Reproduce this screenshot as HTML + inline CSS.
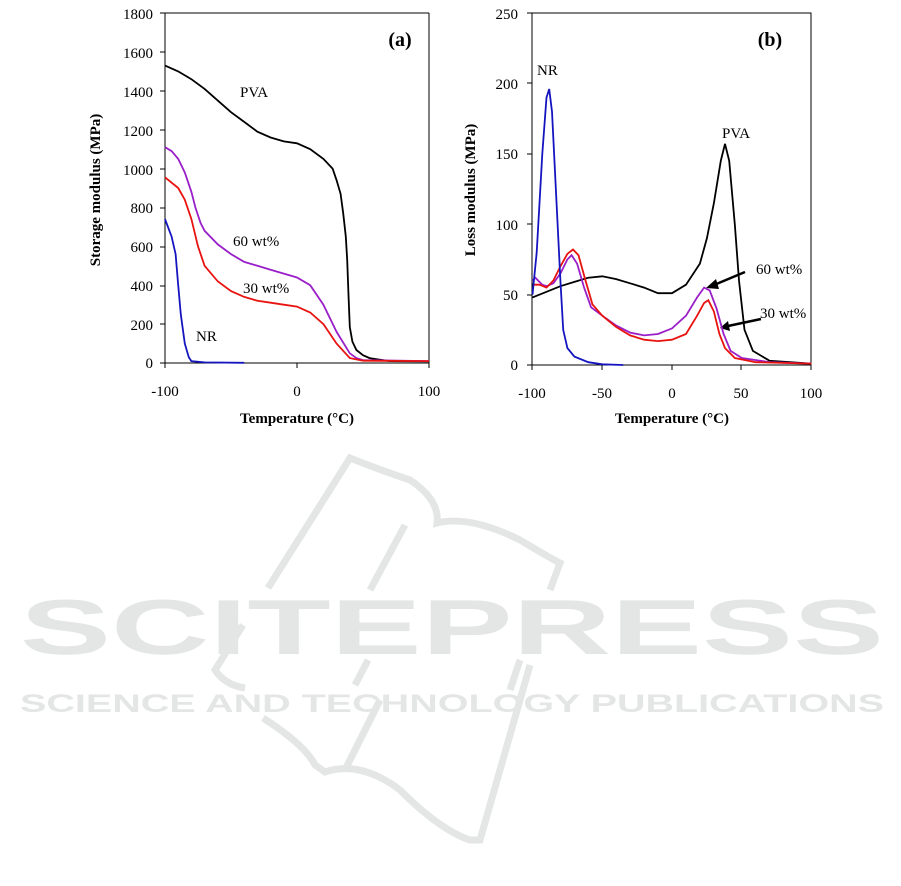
<!DOCTYPE html>
<html><head><meta charset="utf-8"><style>
html,body{margin:0;padding:0;background:#fff;}
svg{display:block;font-family:"Liberation Serif",serif;}
</style></head><body>
<svg id="s" width="901" height="886" viewBox="0 0 901 886" xmlns="http://www.w3.org/2000/svg">
<!-- watermark -->
<g fill="none" stroke="#e4e6e6" stroke-width="7">
<path d="M268,588 L350,458 Q380,470 410,480 Q440,500 437,523 Q470,515 520,540 Q550,558 560,563 L550,590"/>
<path d="M405,525 L370,590"/>
<path d="M243,625 L215,670 Q225,685 245,688"/>
<path d="M263,718 Q305,745 315,765 L325,772 Q360,760 400,790 Q440,830 470,840 L480,840 L530,665"/>
<path d="M345,770 L380,700"/>
<path d="M368,660 L355,685"/>
<path d="M520,660 L510,690"/>
</g>
<text x="452" y="654" text-anchor="middle" font-family="Liberation Sans,sans-serif" font-weight="bold" font-size="78" fill="#e4e6e6" textLength="864" lengthAdjust="spacingAndGlyphs">SCITEPRESS</text>
<text x="452" y="712" text-anchor="middle" font-family="Liberation Sans,sans-serif" font-weight="bold" font-size="25" fill="#e4e6e6" textLength="864" lengthAdjust="spacingAndGlyphs">SCIENCE AND TECHNOLOGY PUBLICATIONS</text>

<!-- chart a axes -->
<g stroke="#000" stroke-width="1" fill="none">
<path d="M165,13 V363 H429"/>
<path d="M429,13 V363"/>
<path d="M165,13 H429"/>
</g>
<g id="ta" stroke="#000" stroke-width="1"></g>
<g font-size="15" text-anchor="end" fill="#000">
<text x="153" y="19">1800</text><text x="153" y="58">1600</text><text x="153" y="97">1400</text>
<text x="153" y="136">1200</text><text x="153" y="175">1000</text><text x="153" y="213">800</text>
<text x="153" y="252">600</text><text x="153" y="291">400</text><text x="153" y="330">200</text>
<text x="153" y="368">0</text>
</g>
<g font-size="15" text-anchor="middle">
<text x="165" y="396">-100</text><text x="297" y="396">0</text><text x="429" y="396">100</text>
</g>
<text x="297" y="423" text-anchor="middle" font-size="15" font-weight="bold">Temperature (°C)</text>
<text transform="translate(100,190) rotate(-90)" text-anchor="middle" font-size="15" font-weight="bold">Storage modulus (MPa)</text>
<text x="400" y="46" text-anchor="middle" font-size="20" font-weight="bold">(a)</text>
<g font-size="15">
<text x="240" y="97">PVA</text><text x="233" y="246">60 wt%</text>
<text x="243" y="293">30 wt%</text><text x="196" y="341">NR</text>
</g>

<!-- chart b axes -->
<g stroke="#000" stroke-width="1" fill="none">
<path d="M532,13 V365 H811 V13 H532"/>
</g>
<g font-size="15" text-anchor="end">
<text x="518" y="19">250</text><text x="518" y="89">200</text><text x="518" y="159">150</text>
<text x="518" y="230">100</text><text x="518" y="300">50</text><text x="518" y="370">0</text>
</g>
<g font-size="15" text-anchor="middle">
<text x="532" y="398">-100</text><text x="602" y="398">-50</text><text x="672" y="398">0</text>
<text x="741" y="398">50</text><text x="811" y="398">100</text>
</g>
<text x="672" y="423" text-anchor="middle" font-size="15" font-weight="bold">Temperature (°C)</text>
<text transform="translate(475,190) rotate(-90)" text-anchor="middle" font-size="15" font-weight="bold">Loss modulus (MPa)</text>
<text x="770" y="46" text-anchor="middle" font-size="20" font-weight="bold">(b)</text>
<g font-size="15">
<text x="537" y="75">NR</text><text x="722" y="138">PVA</text>
<text x="756" y="274">60 wt%</text><text x="760" y="318">30 wt%</text>
</g>
<g stroke="#000" stroke-width="2.5">
<line x1="745" y1="272" x2="714" y2="285"/>
<line x1="761" y1="319" x2="728" y2="326"/>
</g>
<polygon points="706,288 716,279 719,289" fill="#000"/>
<polygon points="720,328 728,321 730,331" fill="#000"/>
<g id="curves" fill="none" stroke-width="1.8"></g>
</svg>
<script>
function P(d,fx,fy){return d.map(p=>fx(p[0]).toFixed(1)+','+fy(p[1]).toFixed(1)).join(' ');}
var ax=t=>297+1.32*t, ay=v=>363-v*0.1944;
var bx=t=>672+1.395*t, by=v=>365-v*1.408;
var A={
'#000':[[-100,1530],[-90,1500],[-80,1460],[-70,1410],[-60,1350],[-50,1290],[-40,1240],[-30,1190],[-20,1160],[-10,1140],[0,1130],[10,1100],[20,1050],[27,1000],[30,940],[33,870],[35,770],[37,650],[38,530],[39,350],[40,185],[42,110],[45,67],[50,40],[55,25],[70,10],[100,8]],
'#9a1fc8':[[-100,1110],[-95,1090],[-90,1050],[-85,980],[-80,880],[-77,800],[-73,720],[-70,680],[-60,610],[-50,560],[-40,520],[-30,500],[-20,480],[-10,460],[0,440],[10,400],[20,300],[30,160],[40,50],[45,25],[50,15],[100,10]],
'#e8130f':[[-100,955],[-90,900],[-85,840],[-80,740],[-75,600],[-70,500],[-60,420],[-50,370],[-40,340],[-30,320],[-20,310],[-10,300],[0,290],[10,260],[20,200],[30,100],[40,25],[50,12],[100,10]],
'#1515c0':[[-100,740],[-95,650],[-92,560],[-90,400],[-88,250],[-85,100],[-82,30],[-80,10],[-70,3],[-40,1]]};
var B={
'#000':[[-100,48],[-90,52],[-80,56],[-70,59],[-60,62],[-50,63],[-40,61],[-30,58],[-20,55],[-10,51],[0,51],[10,57],[20,72],[25,90],[30,115],[35,145],[38,157],[41,145],[45,100],[48,60],[52,25],[58,10],[70,3],[100,1]],
'#9a1fc8':[[-100,60],[-98,62],[-93,57],[-90,56],[-85,58],[-80,65],[-75,75],[-72,78],[-68,72],[-63,55],[-58,41],[-50,35],[-40,28],[-30,23],[-20,21],[-10,22],[0,26],[10,35],[18,48],[23,55],[27,53],[32,40],[37,22],[42,10],[50,5],[70,2],[100,1]],
'#e8130f':[[-100,57],[-95,57],[-90,55],[-85,60],[-80,70],[-75,79],[-71,82],[-67,78],[-62,60],[-57,43],[-50,35],[-40,27],[-30,21],[-20,18],[-10,17],[0,18],[10,22],[18,35],[23,44],[26,46],[30,38],[34,22],[38,12],[45,5],[60,2],[100,1]],
'#1515c0':[[-100,50],[-97,80],[-93,150],[-90,190],[-88,196],[-86,180],[-83,120],[-80,60],[-78,25],[-75,12],[-70,6],[-60,2],[-50,0.5],[-35,0]]};
var h='';
for(var c in A)h+='<polyline stroke="'+c+'" points="'+P(A[c],ax,ay)+'"/>';
for(var c in B)h+='<polyline stroke="'+c+'" points="'+P(B[c],bx,by)+'"/>';
document.getElementById('curves').innerHTML=h;
var t='';
[13,52,91,130,169,208,247,286,324,363].forEach(y=>t+='<line x1="160" y1="'+y+'" x2="165" y2="'+y+'"/>');
[13,83,154,224,295,365].forEach(y=>t+='<line x1="527" y1="'+y+'" x2="532" y2="'+y+'"/>');
[165,297,429].forEach(x=>t+='<line x1="'+x+'" y1="363" x2="'+x+'" y2="368"/>');
[532,602,672,741,811].forEach(x=>t+='<line x1="'+x+'" y1="365" x2="'+x+'" y2="370"/>');
document.getElementById('ta').innerHTML=t;
</script>
</body></html>
